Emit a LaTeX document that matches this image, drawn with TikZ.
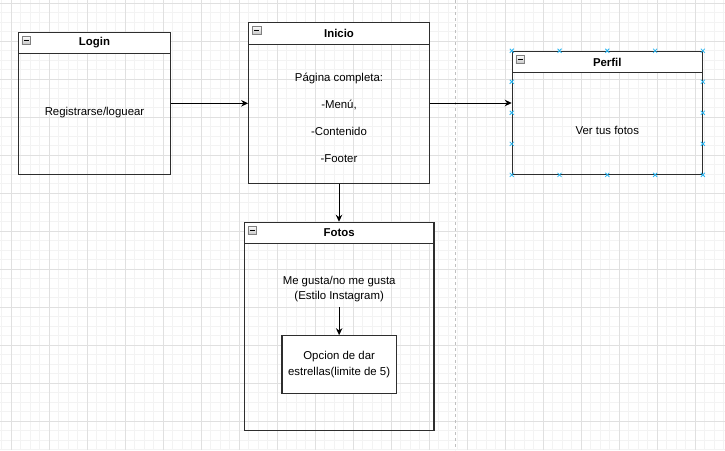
\documentclass[tikz,border=0pt]{standalone}
\usepackage{fontspec}
\setmainfont{Liberation Sans}
\usetikzlibrary{arrows.meta,calc}
\definecolor{bd}{HTML}{2E2E2E}
\definecolor{gridminor}{HTML}{F3F3F3}
\definecolor{gridmajor}{HTML}{E0E0E0}
\definecolor{selblue}{HTML}{29B6F2}
\definecolor{pageline}{HTML}{C0C0C0}
\begin{document}
\begin{tikzpicture}[x=1pt,y=-1pt,
  box/.style={draw=bd, line width=1.1pt, inner sep=0pt},
  hdr/.style={draw=bd, fill=white, line width=1.1pt, inner sep=0pt, anchor=north,
    font=\fontsize{11.4}{13}\selectfont\bfseries},
  txt/.style={font=\fontsize{11.4}{15.7}\selectfont, align=center, inner sep=0pt},
  arr/.style={-{Stealth[length=7pt,width=6.5pt]}, line width=1pt, black},
  icon/.style={draw=gray, top color=white, bottom color=gray!45, minimum size=8.5pt,
    inner sep=0pt, anchor=north west,
    path picture={\draw[black,line width=1pt]
      ([xshift=1.8pt]path picture bounding box.west) --
      ([xshift=-1.8pt]path picture bounding box.east);}},
  selmark/.style={draw=selblue, line width=0.8pt}]
\useasboundingbox (0,0) rectangle (725,450);
\fill[white] (0,0) rectangle (725,450);
% grid
\foreach \i in {0,...,76} \draw[gridminor,line width=0.9pt] ({1.8+9.5*\i},0) -- ({1.8+9.5*\i},450);
\foreach \j in {0,...,47} \draw[gridminor,line width=0.9pt] (0,{3.3+9.5*\j}) -- (725,{3.3+9.5*\j});
\foreach \i in {0,...,19} \draw[gridmajor,line width=0.9pt] ({11.3+38*\i},0) -- ({11.3+38*\i},450);
\foreach \j in {0,...,11} \draw[gridmajor,line width=0.9pt] (0,{3.3+38*\j}) -- (725,{3.3+38*\j});
% page break line
\draw[pageline, line width=0.9pt, dash pattern=on 3pt off 3pt] (455.3,0) -- (455.3,450);

% Login
\node[box, minimum width=152.4pt, minimum height=142pt] (login) at (94.5,103.3) {};
\node[hdr, minimum width=152.4pt, minimum height=21.4pt] (loginh) at (login.north) {Login};
\node[icon] (loginic) at ([xshift=4pt,yshift=-4pt]loginh.north west) {};
\node[txt] (logint) at (94.5,112.5) {Registrarse/loguear};

% Inicio
\node[box, minimum width=180.6pt, minimum height=161.4pt] (inicio) at (339,103) {};
\node[hdr, minimum width=180.6pt, minimum height=22pt] (inicioh) at (inicio.north) {Inicio};
\node[icon] (inicioic) at ([xshift=4pt,yshift=-4pt]inicioh.north west) {};
\node[txt, font=\fontsize{11.4}{27}\selectfont] (iniciot) at (339,117.5)
  {Página completa:\\-Menú,\\-Contenido\\-Footer};

% Perfil
\node[box, minimum width=190pt, minimum height=123pt] (perfil) at (607.3,112.8) {};
\node[hdr, minimum width=190pt, minimum height=21.4pt] (perfilh) at (perfil.north) {Perfil};
\node[icon] (perfilic) at ([xshift=4pt,yshift=-4pt]perfilh.north west) {};
\node[txt] (perfilt) at (607.3,130.5) {Ver tus fotos};

% Fotos
\node[box, minimum width=189.7pt, minimum height=208.4pt] (fotos) at (339.15,326.5) {};
\node[hdr, minimum width=189.7pt, minimum height=21.4pt] (fotosh) at (fotos.north) {Fotos};
\node[icon] (fotosic) at ([xshift=4pt,yshift=-4pt]fotosh.north west) {};
\node[txt] (likes) at (339.15,289) {Me gusta/no me gusta\\(Estilo Instagram)};
\node[box, fill=white, minimum width=114.3pt, minimum height=57.6pt] (opcion) at (339.15,364.5) {};
\node[txt] (opciont) at (339.15,364.8) {Opcion de dar\\estrellas(limite de 5)};

% connectors
\draw[arr] (login.east) -- (login.east -| inicio.west);
\draw[arr] (inicio.east) -- (inicio.east -| perfil.west);
\draw[arr] (inicio.south) -- (inicio.south |- fotos.north);
\draw[arr, shorten <=5pt] (likes.south) -- (likes.south |- opcion.north);

% selection markers on Perfil
\foreach \t in {0,0.25,0.5,0.75,1} {
  \path ($(perfil.north west)!\t!(perfil.north east)$) coordinate (m);
  \draw[selmark] ([xshift=-2pt,yshift=-2pt]m) -- ([xshift=2pt,yshift=2pt]m)
                 ([xshift=-2pt,yshift=2pt]m) -- ([xshift=2pt,yshift=-2pt]m);
  \path ($(perfil.south west)!\t!(perfil.south east)$) coordinate (m);
  \draw[selmark] ([xshift=-2pt,yshift=-2pt]m) -- ([xshift=2pt,yshift=2pt]m)
                 ([xshift=-2pt,yshift=2pt]m) -- ([xshift=2pt,yshift=-2pt]m);
}
\foreach \t in {0.25,0.5,0.75} {
  \path ($(perfil.north west)!\t!(perfil.south west)$) coordinate (m);
  \draw[selmark] ([xshift=-2pt,yshift=-2pt]m) -- ([xshift=2pt,yshift=2pt]m)
                 ([xshift=-2pt,yshift=2pt]m) -- ([xshift=2pt,yshift=-2pt]m);
  \path ($(perfil.north east)!\t!(perfil.south east)$) coordinate (m);
  \draw[selmark] ([xshift=-2pt,yshift=-2pt]m) -- ([xshift=2pt,yshift=2pt]m)
                 ([xshift=-2pt,yshift=2pt]m) -- ([xshift=2pt,yshift=-2pt]m);
}
\end{tikzpicture}
\end{document}
